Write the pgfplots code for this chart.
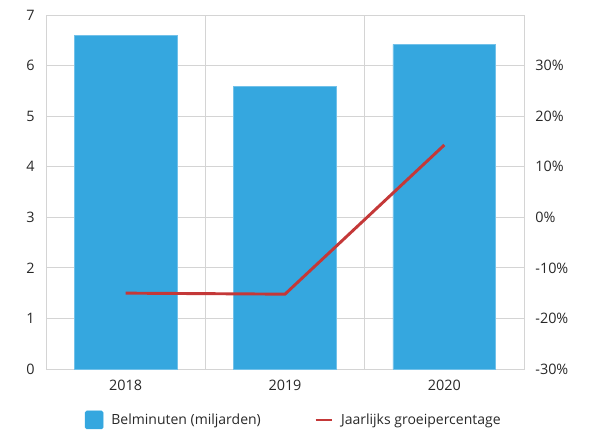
\documentclass[border=0pt]{standalone}
\usepackage{pgfplots}
\pgfplotsset{compat=1.18}
\usepackage{fontspec}
\setmainfont{Open Sans}
\definecolor{barblue}{RGB}{53,167,223}
\definecolor{linered}{RGB}{196,56,56}
\definecolor{gridgray}{RGB}{212,212,212}
\definecolor{txt}{RGB}{40,40,40}
\begin{document}
\begin{tikzpicture}
\path[use as bounding box] (0,0) rectangle (442.5pt,322.5pt);
\begin{axis}[
 at={(34.5pt,45.75pt)}, anchor=south west,
 scale only axis, width=358.5pt, height=265.5pt,
 xmin=-0.5, xmax=2.5, ymin=0, ymax=7,
 xtick={0,1,2}, xticklabels={2018,2019,2020},
 minor xtick={0.5,1.5}, xminorgrids,
 ytick={0,1,...,7}, ymajorgrids,
 major tick length=0pt, minor tick length=0pt,
 grid style={gridgray, line width=0.6pt},
 minor grid style={gridgray, line width=0.6pt},
 axis line style={gridgray, line width=0.6pt},
 tick label style={font=\fontsize{10.8}{12}\selectfont, text=txt},
 yticklabel style={xshift=-5pt},
 xticklabel style={yshift=-4.5pt},
 /pgf/number format/assume math mode=true,
 legend style={at={(0.519,-0.144)}, anchor=center, draw=none, fill=none,
   legend columns=2, font=\fontsize{10.5}{12}\selectfont, text=txt,
   /tikz/every even column/.append style={column sep=38pt},
   /tikz/every odd column/.append style={column sep=4pt}},
 legend cell align=left,
]
\addplot[ybar, bar width=0.645, fill=barblue, draw=barblue!70!white, line width=0.4pt,
  legend image code/.code={\fill[barblue, rounded corners=1.2pt] (0pt,-6.75pt) rectangle (13.5pt,6.75pt);}]
  coordinates {(0,6.60) (1,5.59) (2,6.42)};
\addlegendentry{Belminuten (miljarden)}
\addlegendimage{legend image code/.code={\draw[linered, line width=2.2pt] (0pt,0pt) -- (12pt,0pt);}}
\addlegendentry{Jaarlijks groeipercentage}
\end{axis}
\begin{axis}[
 at={(34.5pt,45.75pt)}, anchor=south west,
 scale only axis, width=358.5pt, height=265.5pt,
 xmin=-0.5, xmax=2.5, ymin=-30, ymax=40,
 axis y line*=right, hide x axis,
 y axis line style={draw=none},
 ytick={-30,-20,...,30},
 yticklabel={\pgfmathprintnumber{\tick}\%},
 major tick length=0pt,
 tick label style={font=\fontsize{10.8}{12}\selectfont, text=txt},
 yticklabel style={xshift=5pt},
 /pgf/number format/assume math mode=true,
]
\addplot[linered, line width=2.2pt, mark=none] coordinates {(0,-15.0) (1,-15.2) (2,14.3)};
\end{axis}
\end{tikzpicture}
\end{document}
